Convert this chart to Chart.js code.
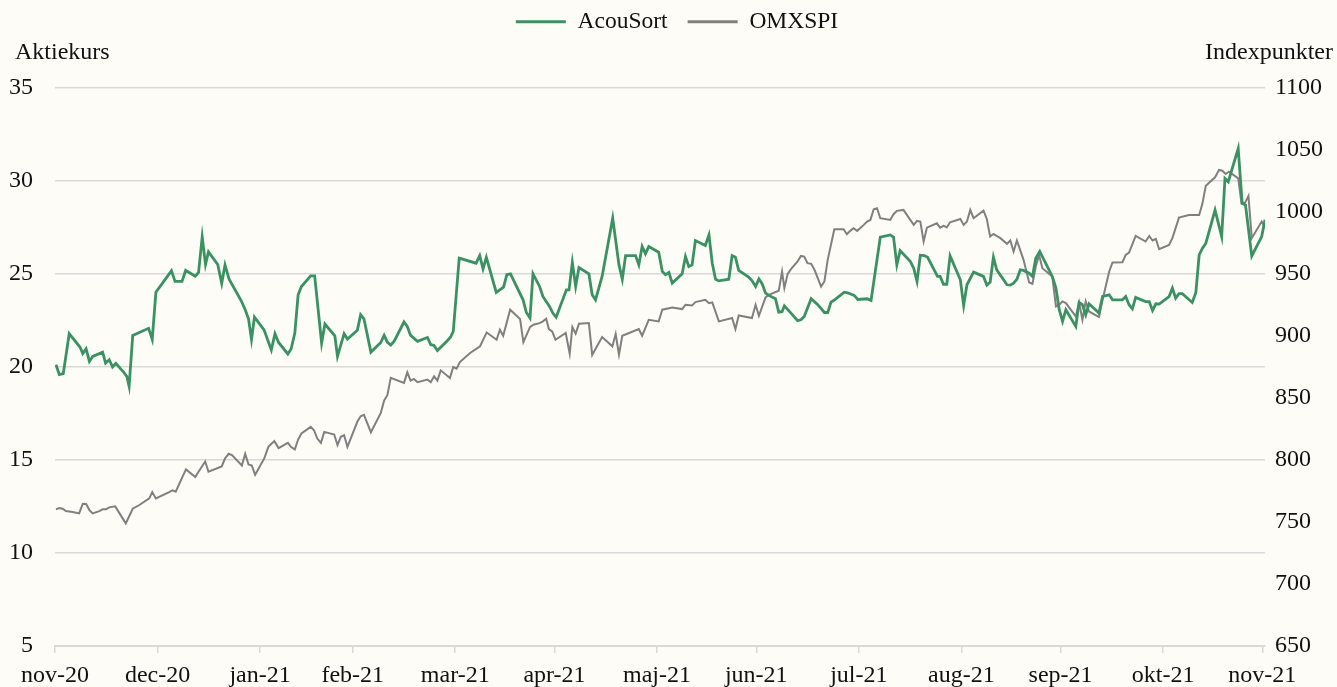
<!DOCTYPE html>
<html>
<head>
<meta charset="utf-8">
<script src="https://cdn.jsdelivr.net/npm/chart.js@4/dist/chart.umd.min.js"></script>
<style>
  html, body { margin: 0; padding: 0; background: #fdfcf7; }
  #wrap { width: 1337px; height: 687px; }
</style>
</head>
<body>
<div id="wrap"><canvas id="c" width="1337" height="687"></canvas></div>
<script>
// ---- Data (x = days from the first month tick, end of Nov 2020) ----
const seriesNames = ["AcouSort", "OMXSPI"];
const leftAxisTitle = "Aktiekurs";
const rightAxisTitle = "Indexpunkter";

const monthTickDays = [0, 31, 62, 90, 121, 151, 182, 212, 243, 274, 304, 335, 365];
const monthTickLabels = ["nov-20","dec-20","jan-21","feb-21","mar-21","apr-21","maj-21","jun-21","jul-21","aug-21","sep-21","okt-21","nov-21"];

const acouDays = [
  0.3,1.3,2.5,4.3,7.6,8.4,9.4,10.4,11.4,14.4,15.3,16.4,17.4,18.4,20.8,21.7,22.4,23.5,28.3,29.4,
  30.5,35.2,36.3,38.4,39.5,42.4,43.4,44.5,45.5,46.4,49.2,50.4,51.4,52.6,56.3,57.5,58.5,59.4,60.3,63.2,
  65.4,66.5,67.6,70.4,71.4,
  72.5,73.5,74.5,77.3,78.5,80.6,81.6,84.6,85.4,87.4,88.4,91.4,92.4,93.4,95.5,98.5,99.5,100.5,101.5,102.5,
  105.5,106.5,107.5,109.6,112.6,113.6,114.6,115.6,118.6,119.6,120.4,122.2,127.3,128.4,129.4,130.4,133.4,135.6,136.6,137.7,
  141.5,142.5,143.6,144.5,
  146.5,147.5,148.5,149.5,150.5,151.5,154.6,155.4,156.4,157.4,158.4,161.4,162.4,163.4,165.4,168.6,170.5,171.5,172.5,175.5,
  176.5,177.5,178.5,179.5,182.5,183.6,184.6,185.6,186.6,189.6,190.6,191.6,192.6,193.6,196.6,197.7,198.7,199.7,200.7,203.7,
  204.7,205.7,206.7,209.7,210.7,211.8,212.8,213.8,214.8,215.8,217.8,218.8,219.8,
  220.5,222.5,224.5,225.5,226.5,228.6,230.6,232.6,233.6,234.6,235.6,238.6,239.6,241.6,242.7,245.5,246.7,249.5,252.5,253.5,
  254.5,255.5,258.6,259.6,260.6,261.6,262.8,263.8,266.8,267.6,268.6,269.6,270.6,273.7,274.7,275.7,277.7,280.7,281.7,282.7,
  283.7,284.7,287.8,288.8,289.8,290.8,291.8,292.8,
  294.5,295.5,296.5,297.7,301.5,302.6,303.6,304.6,305.6,308.6,309.6,310.6,311.6,312.6,315.6,316.7,318.7,319.7,322.7,323.7,
  324.7,325.7,326.7,329.7,330.8,331.8,332.8,333.8,336.8,337.8,338.8,339.8,340.8,343.8,344.9,345.9,346.9,347.9,350.7,352.7,
  353.7,354.7,357.7,358.9,359.9,361.8,364.8,365.8
];
const acouPrices = [
  20.13,19.59,19.64,21.79,21.06,20.72,20.98,20.30,20.57,20.80,20.21,20.39,20.00,20.20,19.71,19.50,18.96,21.70,22.08,21.48,
  24.02,25.17,24.60,24.60,25.19,24.88,25.08,26.99,25.51,26.19,25.51,24.49,25.49,24.74,23.56,23.08,22.59,21.48,22.68,22.00,
  20.91,21.79,21.32,20.70,20.98,
  21.82,23.88,24.33,24.90,24.90,21.29,22.31,21.68,20.57,21.79,21.50,21.97,22.81,22.59,20.80,21.32,21.70,21.32,21.18,21.38,
  22.42,22.18,21.70,21.38,21.59,21.20,21.16,20.89,21.41,21.61,21.91,25.85,25.58,25.99,25.28,25.90,24.01,24.29,24.96,25.01,
  23.61,22.93,22.63,25.01,
  24.33,23.79,23.52,23.26,22.90,22.68,24.15,24.15,25.62,24.33,25.35,25.01,23.88,23.61,24.87,28.00,25.49,24.72,25.99,25.99,
  25.49,26.48,26.08,26.48,26.17,25.13,24.96,25.08,24.51,25.01,25.94,25.40,25.49,26.80,26.53,27.10,25.58,24.72,24.63,24.72,
  25.99,25.90,25.19,24.83,24.65,24.33,24.74,24.47,23.97,23.85,23.67,22.95,22.97,
  23.29,22.90,22.49,22.54,22.72,23.67,23.35,22.93,22.93,23.49,23.60,24.02,23.99,23.85,23.63,23.67,23.58,26.98,27.10,26.98,
  25.49,26.26,25.67,25.31,24.60,26.01,25.99,25.90,24.87,24.87,24.45,24.45,25.97,24.69,23.31,24.42,25.10,24.87,24.40,24.56,
  25.90,25.22,24.42,24.40,24.51,24.72,25.22,25.19,
  25.04,24.87,25.85,26.21,24.87,24.24,23.08,22.45,23.08,22.18,23.47,23.35,22.81,23.40,22.90,23.79,23.88,23.61,23.61,23.79,
  23.35,23.13,23.74,23.52,23.52,23.04,23.40,23.38,23.79,24.24,23.70,23.94,23.94,23.47,24.01,26.03,26.39,26.65,28.44,27.01,
  30.14,29.96,31.75,28.80,28.71,25.97,27.01,27.91
];

const omxDays = [
  0.3,1.3,2.3,3.3,5.3,7.3,8.4,9.4,10.4,11.4,13.4,14.4,15.4,16.4,18.2,21.4,23.5,25.5,28.5,29.4,
  30.5,34.5,35.5,36.5,38.6,39.6,42.4,43.4,45.4,46.4,50.4,51.4,52.5,53.5,56.5,57.5,58.5,59.5,60.5,63.3,
  64.5,66.3,67.6,70.4,71.4,
  72.5,73.5,74.5,77.3,78.3,79.3,80.4,81.4,84.4,85.4,86.4,87.4,88.4,91.4,92.4,93.4,95.5,98.5,99.5,100.5,
  101.5,105.5,106.5,107.5,108.5,109.6,112.6,113.6,114.6,115.6,116.6,119.4,120.4,121.4,122.4,125.5,128.5,130.5,133.5,134.5,
  135.5,137.6,140.6,141.6,143.6,144.6,
  146.5,147.5,148.5,149.3,150.3,151.3,154.4,155.6,156.4,157.4,158.4,161.4,162.4,165.4,168.5,169.5,170.5,171.5,176.5,177.5,
  179.5,182.5,183.6,186.6,189.6,190.6,192.6,193.6,196.6,197.7,198.7,200.7,204.7,205.7,206.7,210.7,211.8,212.8,214.8,215.8,
  218.8,219.8,
  220.5,221.5,222.5,224.5,225.5,226.5,227.5,228.6,229.6,231.6,232.6,233.6,235.6,238.4,239.4,240.4,241.4,242.5,244.5,245.5,
  246.5,247.5,248.5,249.5,252.5,253.5,254.5,256.5,259.6,260.6,261.6,262.6,263.6,266.6,267.6,268.6,269.6,270.6,273.7,274.7,
  275.7,276.7,277.7,280.7,281.7,282.7,283.7,285.8,287.8,288.8,289.8,290.8,292.8,
  294.5,295.5,296.5,297.5,298.5,301.5,302.6,303.6,304.6,305.6,308.6,309.6,310.6,311.6,312.6,315.6,316.7,318.7,319.7,322.7,
  323.7,324.7,326.7,329.7,330.8,331.8,332.8,333.8,336.8,337.8,339.8,342.8,345.9,346.9,347.9,350.7,351.9,352.9,353.9,354.9,
  357.7,358.7,359.8,360.8,361.8,364.8,365.8
];
const omxIndex = [
  760.2,761.3,760.7,758.8,758.0,756.9,764.7,764.5,759.6,756.9,758.8,760.2,760.2,761.8,762.6,748.9,760.7,763.7,769.0,774.1,
  769.0,774.1,775.5,774.4,786.8,792.4,786.2,790.5,798.8,790.5,794.8,801.2,805.0,803.9,795.6,805.0,796.4,795.6,788.1,801.5,
  810.6,815.2,809.6,813.8,810.4,
  808.5,816.5,821.4,826.7,824.0,817.3,813.8,822.7,820.6,812.0,818.7,820.0,810.6,830.8,835.3,836.4,822.4,838.0,847.9,852.5,
  866.2,862.2,870.7,864.0,865.4,862.7,864.8,862.7,867.5,864.0,872.3,866.2,875.0,873.7,879.0,886.3,891.7,902.9,897.0,905.1,
  900.2,921.2,913.7,895.1,907.2,909.1,
  910.4,911.8,913.9,905.6,903.7,897.0,902.4,885.7,907.2,901.9,909.9,910.4,884.7,899.2,891.7,901.6,885.0,900.2,905.6,900.2,
  913.1,911.8,921.2,923.0,921.7,925.2,924.7,927.3,929.2,926.5,927.1,911.8,914.5,905.6,916.6,914.5,925.2,916.3,931.1,933.2,
  936.5,952.0,
  938.6,950.1,953.9,960.1,964.6,964.1,958.7,958.2,953.4,939.9,944.0,961.4,986.1,986.1,982.1,984.8,986.9,984.8,989.6,992.3,
  993.6,1002.2,1003.0,995.0,993.6,998.2,1000.9,1001.7,989.6,992.8,992.3,976.2,987.4,990.9,987.4,988.8,987.7,991.7,994.4,989.6,
  992.3,1001.7,995.0,1001.1,994.4,980.2,982.3,978.9,974.3,977.0,968.1,977.0,961.4,
  943.2,942.1,956.0,965.4,954.7,948.0,923.9,925.2,927.9,926.5,915.8,927.1,913.1,927.9,919.8,915.3,929.2,952.0,959.3,959.5,
  965.4,967.3,980.7,976.2,980.7,977.0,978.3,970.0,973.5,978.9,995.5,997.6,997.6,1007.0,1021.2,1028.0,1033.9,1033.3,1030.6,1032.5,
  1027.1,1007.0,1007.6,1012.9,978.9,992.3,987.0
];

// ---- Styles ----
const GREEN = "#3a9162";
const GREY = "#808080";
const BG = "#fdfcf7";
const GRID = "#d9d9d9";
const TEXT = "#111111";
const FONT = "'Liberation Serif', 'Times New Roman', serif";

const bgPlugin = {
  id: "bg",
  beforeDraw(chart) {
    const ctx = chart.ctx;
    ctx.save();
    ctx.fillStyle = BG;
    ctx.fillRect(0, 0, chart.width, chart.height);
    ctx.restore();
  }
};

const legendSpace = {
  id: "legendSpace",
  beforeInit(chart) {
    const orig = chart.legend.fit;
    chart.legend.fit = function () {
      orig.call(this);
      this.height = 98;
    };
  },
  afterLayout(chart) {
    chart.legend.left += 17;
  }
};

const axisTitles = {
  id: "axisTitles",
  afterDraw(chart) {
    const ctx = chart.ctx;
    const top = chart.chartArea.top;
    ctx.save();
    ctx.font = "24px " + FONT;
    ctx.fillStyle = TEXT;
    ctx.textBaseline = "alphabetic";
    ctx.textAlign = "left";
    ctx.fillText(leftAxisTitle, 15, top - 29);
    ctx.textAlign = "right";
    ctx.fillText(rightAxisTitle, chart.width - 4, top - 29);
    ctx.restore();
  }
};

new Chart(document.getElementById("c"), {
  type: "line",
  data: {
    datasets: [
      {
        label: seriesNames[0],
        data: acouDays.map((d, i) => ({ x: d, y: acouPrices[i] })),
        borderColor: GREEN,
        backgroundColor: GREEN,
        borderWidth: 2.8,
        pointRadius: 0,
        tension: 0,
        yAxisID: "y"
      },
      {
        label: seriesNames[1],
        data: omxDays.map((d, i) => ({ x: d, y: omxIndex[i] })),
        borderColor: GREY,
        backgroundColor: GREY,
        borderWidth: 2,
        pointRadius: 0,
        tension: 0,
        yAxisID: "y1"
      }
    ]
  },
  options: {
    responsive: false,
    animation: false,
    layout: { padding: { top: -10, left: 0, right: 0, bottom: 0 } },
    plugins: {
      tooltip: { enabled: false },
      legend: {
        position: "top",
        labels: {
          boxWidth: 50,
          boxHeight: 3,
          padding: 20,
          color: TEXT,
          font: { family: FONT, size: 23.5 },
          generateLabels(chart) {
            return chart.data.datasets.map((ds, i) => ({
              text: ds.label,
              fillStyle: ds.borderColor,
              strokeStyle: ds.borderColor,
              lineWidth: 0,
              hidden: false,
              datasetIndex: i,
              fontColor: TEXT
            }));
          }
        }
      }
    },
    scales: {
      x: {
        type: "linear",
        min: 0,
        max: 365.8,
        afterBuildTicks(scale) {
          scale.ticks = monthTickDays.map(v => ({ value: v }));
        },
        afterFit(scale) { scale.height = 41; },
        ticks: {
          autoSkip: false,
          maxRotation: 0,
          padding: 8,
          color: TEXT,
          font: { family: FONT, size: 24 },
          callback(value, index) { return monthTickLabels[index]; }
        },
        grid: {
          drawOnChartArea: false,
          drawTicks: true,
          tickLength: 7,
          color: GRID,
          lineWidth: 1.5
        },
        border: { display: true, color: GRID, width: 2 }
      },
      y: {
        position: "left",
        min: 5,
        max: 35,
        afterFit(scale) { scale.width = 55; },
        ticks: {
          stepSize: 5,
          padding: 22,
          color: TEXT,
          font: { family: FONT, size: 24 },
          callback(value) { return String(value); }
        },
        grid: { color: GRID, lineWidth: 1.5, drawTicks: false },
        border: { display: false }
      },
      y1: {
        position: "right",
        min: 650,
        max: 1100,
        afterFit(scale) { scale.width = 72; },
        ticks: {
          stepSize: 50,
          padding: 10,
          color: TEXT,
          font: { family: FONT, size: 24 },
          callback(value) { return String(value); }
        },
        grid: { drawOnChartArea: false, drawTicks: false },
        border: { display: false }
      }
    }
  },
  plugins: [bgPlugin, legendSpace, axisTitles]
});
</script>
</body>
</html>
